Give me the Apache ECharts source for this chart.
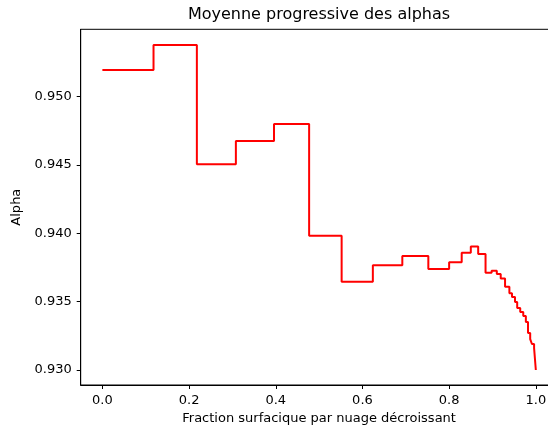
<!DOCTYPE html>
<html>
<head>
<meta charset="utf-8">
<script src="https://cdn.jsdelivr.net/npm/echarts@6/dist/echarts.min.js"></script>
<style>
  html, body { margin: 0; padding: 0; background: #fff; overflow: hidden; }
  /* la figure d'origine est rognée à droite : le cadre dépasse la fenêtre */
  #chart { width: 558px; height: 431px; }
</style>
</head>
<body>
<div id="chart"></div>
<script>
// moyenne progressive : x = fraction surfacique cumulée, y = alpha moyen
const fractions = [
  0.000, 0.118, 0.218, 0.308, 0.396, 0.477, 0.552, 0.624, 0.692, 0.752,
  0.800, 0.829, 0.850, 0.867, 0.884, 0.898, 0.910, 0.919, 0.929, 0.939,
  0.945, 0.952, 0.957, 0.964, 0.971, 0.977, 0.982, 0.987, 0.991, 0.996,
  1.000
];
const alphas = [
  0.95195, 0.95378, 0.94505, 0.94676, 0.94800, 0.93982, 0.93646, 0.93766, 0.93834, 0.93739,
  0.93788, 0.93858, 0.93903, 0.93848, 0.93711, 0.93726, 0.93702, 0.93670, 0.93609, 0.93561,
  0.93534, 0.93497, 0.93453, 0.93424, 0.93395, 0.93351, 0.93270, 0.93226, 0.93190, 0.93160,
  0.93000
];
const xTicks = [0.0, 0.2, 0.4, 0.6, 0.8, 1.0];
const yTicks = [0.930, 0.935, 0.940, 0.945, 0.950];

const FONT = 'DejaVu Sans';
const chart = echarts.init(document.getElementById('chart'));

const points = fractions.map((x, i) => [x, alphas[i]]);

chart.setOption({
  animation: false,
  backgroundColor: '#fff',
  textStyle: { fontFamily: FONT, color: '#000' },
  graphic: [{
    type: 'text',
    x: 319, y: 15,
    style: {
      text: 'Moyenne progressive des alphas',
      font: '16px "DejaVu Sans"',
      fill: '#000',
      textAlign: 'center',
      textVerticalAlign: 'middle'
    }
  }],
  grid: {
    left: 80.7, top: 29.3, right: 0.5, bottom: 46,
    outerBoundsMode: 'none',
    show: true, borderColor: '#000', borderWidth: 1, backgroundColor: 'transparent'
  },
  xAxis: {
    type: 'value',
    min: -0.05, max: 1.05,
    name: 'Fraction surfacique par nuage décroissant',
    nameLocation: 'middle', nameGap: 25,
    nameTextStyle: { fontFamily: FONT, fontSize: 13, color: '#000' },
    axisLine: { onZero: false, lineStyle: { color: '#000', width: 1 } },
    axisTick: { show: true, length: 4, lineStyle: { color: '#000' }, customValues: xTicks },
    axisLabel: {
      fontFamily: FONT, fontSize: 13, color: '#000', margin: 9,
      customValues: xTicks,
      formatter: v => v.toFixed(1)
    },
    splitLine: { show: false }
  },
  yAxis: {
    type: 'value',
    min: 0.92890, max: 0.95493,
    name: 'Alpha',
    nameLocation: 'middle', nameGap: 52,
    nameTextStyle: { fontFamily: FONT, fontSize: 13, color: '#000' },
    axisLine: { show: true, onZero: false, lineStyle: { color: '#000', width: 1 } },
    axisTick: { show: true, length: 4, lineStyle: { color: '#000' }, customValues: yTicks },
    axisLabel: {
      fontFamily: FONT, fontSize: 13, color: '#000', margin: 9,
      customValues: yTicks,
      formatter: v => v.toFixed(3)
    },
    splitLine: { show: false }
  },
  series: [{
    type: 'line',
    step: 'end',
    showSymbol: false,
    symbol: 'none',
    data: points,
    lineStyle: { color: '#ff0000', width: 2 },
    itemStyle: { color: '#ff0000' }
  }]
});
</script>
</body>
</html>
